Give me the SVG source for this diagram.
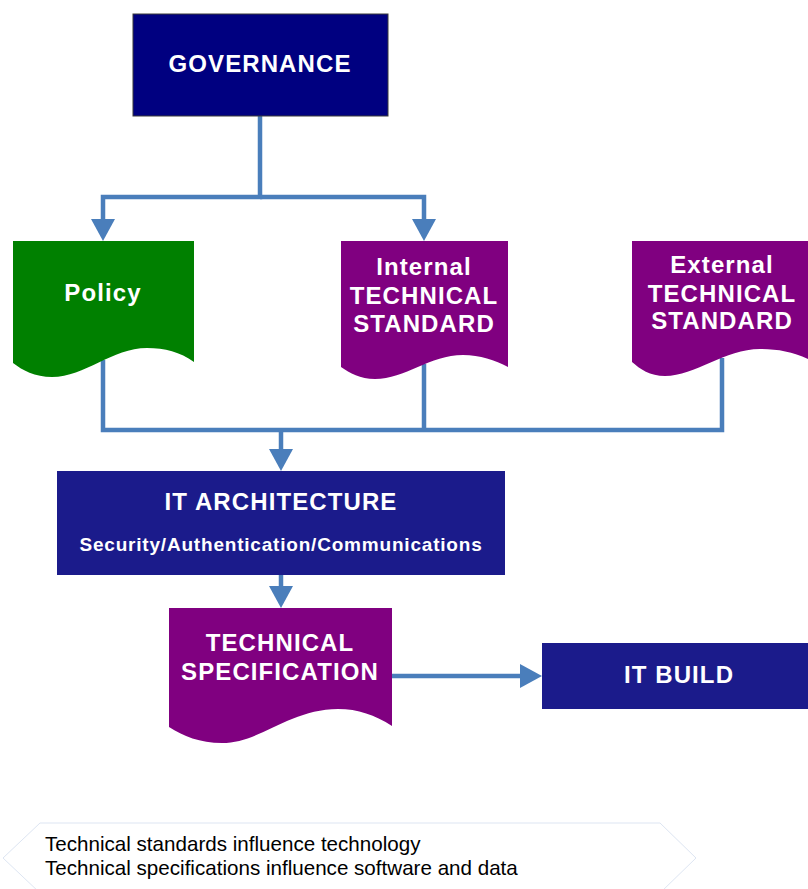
<svg xmlns="http://www.w3.org/2000/svg" width="808" height="889" viewBox="0 0 808 889">
<defs>
<style>
.lbl{font-family:"Liberation Sans",Arial,sans-serif;font-weight:bold;fill:#ffffff;text-anchor:middle;font-size:24px;letter-spacing:1.1px}
.sub{font-family:"Liberation Sans",Arial,sans-serif;font-weight:bold;fill:#ffffff;text-anchor:middle;font-size:19px;letter-spacing:0.8px}
.note{font-family:"Liberation Sans",Arial,sans-serif;fill:#000000;font-size:20.6px}
.conn{fill:none;stroke:#4a7ebb;stroke-width:4.5;stroke-linejoin:miter}
.navy{fill:#1b1b8b}
.purple{fill:#800080}
</style>
<marker id="arr" markerUnits="userSpaceOnUse" viewBox="0 -12 22 24" markerWidth="22" markerHeight="24" refX="0" refY="0" orient="auto">
<path d="M0,-12 L22,0 L0,12 Z" fill="#4a7ebb"/>
</marker>
</defs>
<rect width="808" height="889" fill="#ffffff"/>

<g id="connectors">
<path class="conn" d="M260,116 V197 H103 V219" marker-end="url(#arr)"/>
<path class="conn" d="M260,197 H424 V219" marker-end="url(#arr)"/>
<path class="conn" d="M103,360 V430 H722 V358"/>
<path class="conn" d="M424,364 V430"/>
<path class="conn" d="M281,430 V449" marker-end="url(#arr)"/>
<path class="conn" d="M281,575 V586" marker-end="url(#arr)"/>
<path class="conn" d="M392,676 H520" marker-end="url(#arr)"/>
</g>

<g id="governance">
<rect x="133" y="14" width="255" height="102" fill="#000080" stroke="#3a3a3a" stroke-width="1"/>
<text class="lbl" x="260" y="72">GOVERNANCE</text>
</g>

<g id="policy">
<path d="M13,241 H194 V362 C180,352 165,348 147,348 C112,348 85,377 52,377 C35,377 22,370 13,363 Z" fill="#008000"/>
<text class="lbl" x="103" y="301">Policy</text>
</g>

<g id="internal-standard">
<path class="purple" d="M341,241 H508 V367 C495,360 480,355 463,355 C430,355 405,379 375,379 C360,379 350,373 341,367 Z"/>
<text class="lbl" x="424" y="275">Internal</text>
<text class="lbl" x="424" y="304">TECHNICAL</text>
<text class="lbl" x="424" y="332">STANDARD</text>
</g>

<g id="external-standard">
<path class="purple" d="M632,241 H812 V361 C795,352 778,349 760,349 C725,349 695,376 665,376 C650,376 640,369 632,362 Z"/>
<text class="lbl" x="722" y="273">External</text>
<text class="lbl" x="722" y="302">TECHNICAL</text>
<text class="lbl" x="722" y="329">STANDARD</text>
</g>

<g id="it-architecture">
<rect class="navy" x="57" y="471" width="448" height="104"/>
<text class="lbl" x="281" y="510">IT ARCHITECTURE</text>
<text class="sub" x="281" y="551">Security/Authentication/Communications</text>
</g>

<g id="technical-specification">
<path class="purple" d="M169,608 H392 V726 C375,715 358,709 338,709 C290,709 260,743 222,743 C200,743 183,736 169,727 Z"/>
<text class="lbl" x="280" y="651">TECHNICAL</text>
<text class="lbl" x="280" y="680">SPECIFICATION</text>
</g>

<g id="it-build">
<rect class="navy" x="542" y="643" width="274" height="66"/>
<text class="lbl" x="679" y="683">IT BUILD</text>
</g>

<g id="note">
<path d="M40,823 H660 L696,858 L660,893 H40 L3,858 Z" fill="none" stroke="#dde5f2" stroke-width="1"/>
<text class="note" x="45" y="851">Technical standards influence technology</text>
<text class="note" x="45" y="875">Technical specifications influence software and data</text>
</g>
</svg>
